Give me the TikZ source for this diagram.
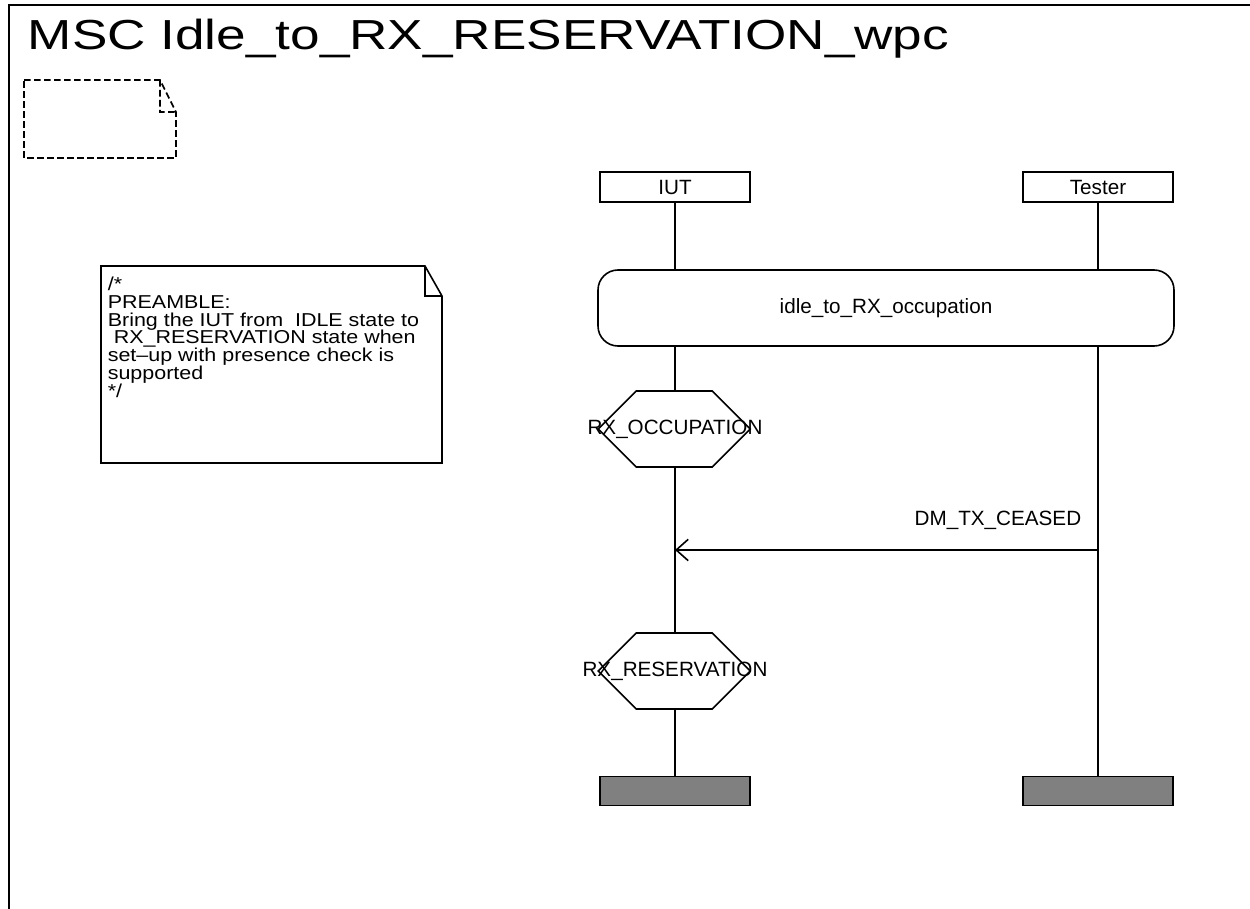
\documentclass[tikz,border=0pt]{standalone}
\usepackage{fontspec}
\setmainfont{Liberation Sans}
\usetikzlibrary{arrows.meta}

\tikzset{
  schrift/.style   = {font=\fontsize{15.5}{18}\selectfont},
  instanz/.style   = {draw, schrift, minimum width=112.5pt, minimum height=22.5pt, inner sep=0pt},
  ende/.style      = {draw, fill=gray, minimum width=112.5pt, minimum height=22pt, inner sep=0pt},
  referenz/.style  = {draw, schrift, rounded corners=15pt, minimum width=432pt, minimum height=57pt, inner sep=0pt},
  zustand/.style   = {schrift, minimum width=114pt, minimum height=57pt, inner sep=0pt},
  nachricht/.style = {-{Straight Barb[length=9pt, width=16pt]}},
}

\begin{document}
\begin{tikzpicture}[x=0.75pt, y=-0.75pt, line width=1.2pt]
  \useasboundingbox (0,0) rectangle (1250,909);

  % Rahmen und Titel
  \draw[line width=1.5pt] (9,909) -- (9,5) -- (1250,5);
  \node[anchor=base west, inner sep=0pt] (titel) at (27,50)
    {\scalebox{1.265}[1]{\fontsize{31.5}{36}\selectfont MSC Idle\_to\_RX\_RESERVATION\_wpc}};

  % leerer Textkasten
  \draw[dash pattern=on 5pt off 2.5pt, line width=1.2pt]
    (24,80) -- (160,80) -- (176,112) -- (176,158) -- (24,158) -- cycle
    (160,80) -- (160,112) -- (176,112);

  % Kommentar
  \draw (101,266) -- (425,266) -- (442,296) -- (442,463) -- (101,463) -- cycle
    (425,266) -- (425,296) -- (442,296);
  \node[anchor=north west, inner sep=0pt] (kommentar) at (107,276)
    {\scalebox{1.15}[1]{\fontsize{14}{13.4}\selectfont\lineskiplimit=-20pt
      \vbox{\hbox{/*}
            \hbox{PREAMBLE:}
            \hbox{Bring the IUT from~ IDLE state to}
            \hbox{\ RX\_RESERVATION state when}
            \hbox{set–up with presence check is}
            \hbox{supported}
            \hbox{*/}}}};

  % Instanzen
  \node[instanz] (iut)    at (675,187)  {IUT};
  \node[instanz] (tester) at (1098,187) {Tester};

  % Referenz
  \node[referenz] (ref) at (886,308) {idle\_to\_RX\_occupation};

  % Zustaende
  \node[zustand] (occ) at (675,429) {\makebox[0pt]{RX\_OCCUPATION}};
  \node[zustand] (res) at (675,671) {\makebox[0pt]{RX\_RESERVATION}};
  \foreach \s in {occ,res}
    \draw (\s.west) -- ++(38,-38) -- ++(76,0) -- ++(38,38) -- ++(-38,38) -- ++(-76,0) -- cycle;

  % Instanzenden
  \node[ende] (iutende)    at (675,791)  {};
  \node[ende] (testerende) at (1098,791) {};

  % Lebenslinien
  \draw (iut.south) -- (iut.south |- ref.north);
  \draw (iut.south |- ref.south) -- (occ.north);
  \draw (occ.south) -- (res.north);
  \draw (res.south) -- (iutende.north);
  \draw (tester.south) -- (tester.south |- ref.north);
  \draw (tester.south |- ref.south) -- (testerende.north);

  % Nachricht
  \coordinate (snd) at (1098,550);
  \coordinate (rcv) at (675,550);
  \draw[nachricht] (snd) -- (rcv);
  \node[schrift, anchor=base east, inner sep=0pt] (msglbl) at (1082,525) {DM\_TX\_CEASED};
\end{tikzpicture}
\end{document}
